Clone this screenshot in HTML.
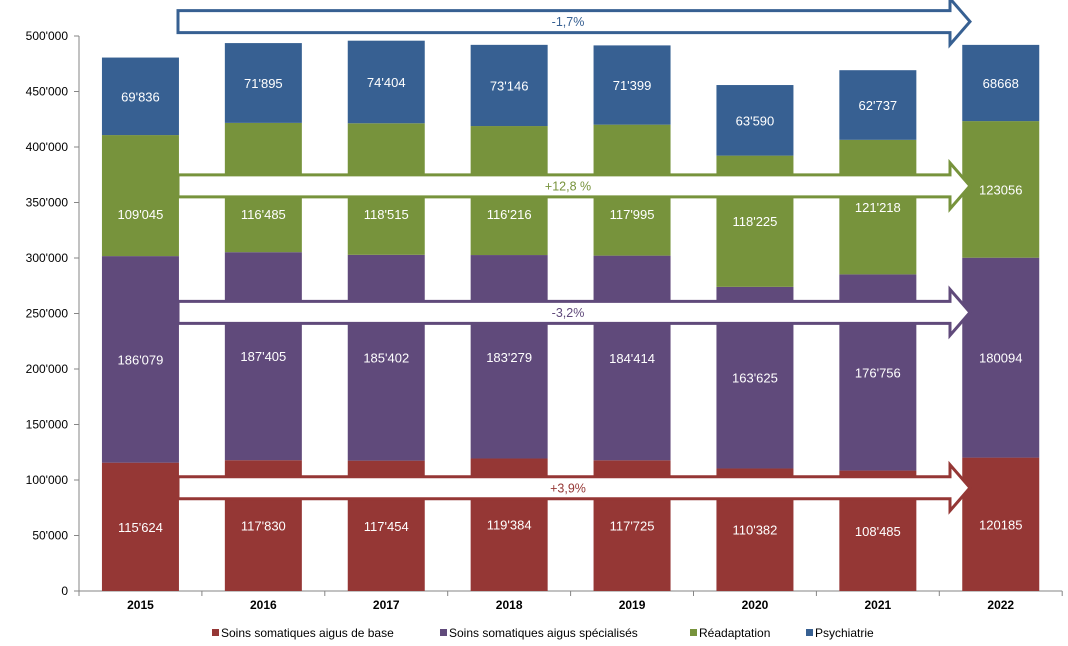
<!DOCTYPE html>
<html><head><meta charset="utf-8"><style>
body{margin:0;background:#fff;font-family:"Liberation Sans",Arial,sans-serif}
svg text{font-family:"Liberation Sans",Arial,sans-serif}
</style></head><body>
<svg id="c" width="1068" height="641"></svg>
<script>
const years=["2015","2016","2017","2018","2019","2020","2021","2022"];
const base=[115624,117830,117454,119384,117725,110382,108485,120185];
const spec=[186079,187405,185402,183279,184414,163625,176756,180094];
const reada=[109045,116485,118515,116216,117995,118225,121218,123056];
const psy=[69836,71895,74404,73146,71399,63590,62737,68668];
const labBase=["115'624","117'830","117'454","119'384","117'725","110'382","108'485","120185"];
const labSpec=["186'079","187'405","185'402","183'279","184'414","163'625","176'756","180094"];
const labRea=["109'045","116'485","118'515","116'216","117'995","118'225","121'218","123056"];
const labPsy=["69'836","71'895","74'404","73'146","71'399","63'590","62'737","68668"];
const yTicks=[0,50000,100000,150000,200000,250000,300000,350000,400000,450000,500000];
const yTickLabels=["0","50'000","100'000","150'000","200'000","250'000","300'000","350'000","400'000","450'000","500'000"];
const arrowLabels=["-1,7%","+12,8 %","-3,2%","+3,9%"];
const arrowLevels=[513000,365000,251000,93000];
const seriesNames=["Soins somatiques aigus de base","Soins somatiques aigus spécialisés","Réadaptation","Psychiatrie"];
const colors=["#953735","#604A7B","#77933C","#376092"];
const ns="http://www.w3.org/2000/svg",svg=document.getElementById('c');
const X0=79,BW=122.9,Y0=591,K=555/500000;
const y=v=>Y0-v*K, xc=i=>X0+BW*(i+0.5);
const AX1=178,AXH=950,AXT=970;
function el(t,a,p){const e=document.createElementNS(ns,t);for(const k in a)e.setAttribute(k,a[k]);(p||svg).appendChild(e);return e;}
let ax=el('line',{x1:X0,y1:y(500000),x2:X0,y2:Y0,stroke:'#868686'});


yTicks.forEach((v,i)=>{
  el('line',{x1:X0-5,y1:y(v),x2:X0,y2:y(v),stroke:'#868686'});
  const t=el('text',{x:X0-11,y:y(v)+4,'text-anchor':'end','font-size':12,fill:'#000'});
  t.textContent=yTickLabels[i];
  
  
});
let xa=el('line',{x1:X0,y1:Y0,x2:X0+BW*8,y2:Y0,stroke:'#868686'});


for(let i=0;i<=8;i++)el('line',{x1:X0+BW*i,y1:Y0,x2:X0+BW*i,y2:Y0+5,stroke:'#868686'});
const series=[base,spec,reada,psy],labs=[labBase,labSpec,labRea,labPsy],snames=['base','specialized','rehab','psychiatry'];
const pending=[];
years.forEach((yr,i)=>{
  let cum=0;
  series.forEach((s,j)=>{
    const v=s[i];
    const r=el('rect',{x:xc(i)-38.5,y:y(cum+v),width:77,height:v*K,fill:colors[j]});
    
    
    let cy=y(cum+v/2);
    if(xc(i)<AXH){arrowLevels.forEach(lv=>{const ay=y(lv);if(Math.abs(cy-ay)<18)cy=ay+28;});}
    pending.push([xc(i),cy,labs[j][i]]);
    cum+=v;
  });
  const t=el('text',{x:xc(i),y:609,'text-anchor':'middle','font-size':12,'font-weight':'bold',fill:'#000'});
  t.textContent=yr;
  
  
});
const acol=[colors[3],colors[2],colors[1],colors[0]],anames=['psychiatry','rehab','specialized','base'];
arrowLevels.forEach((lv,k)=>{
  const cy=y(lv),bh=11,hh=23;
  const p=el('path',{d:`M${AX1},${cy-bh}L${AXH},${cy-bh}L${AXH},${cy-hh}L${AXT},${cy}L${AXH},${cy+hh}L${AXH},${cy+bh}L${AX1},${cy+bh}Z`,fill:'#fff',stroke:acol[k],'stroke-width':3});
  
  
  const t=el('text',{x:568,y:cy+4.5,'text-anchor':'middle','font-size':12.5,fill:acol[k]});
  t.textContent=arrowLabels[k];
  
  
});
pending.forEach(([x,cy,s])=>{
  const t=el('text',{x:x,y:cy+5,'text-anchor':'middle','font-size':13,fill:'#fff'});
  t.textContent=s;
  
  
});
const lx=[212,440,690,806];
seriesNames.forEach((n,j)=>{
  const g=el('g',{});
  
  
  el('rect',{x:lx[j],y:629,width:7,height:7,fill:colors[j]},g);
  const t=el('text',{x:lx[j]+9,y:637,'font-size':12,fill:'#000'},g);
  t.textContent=n;
});
</script>
</body></html>
